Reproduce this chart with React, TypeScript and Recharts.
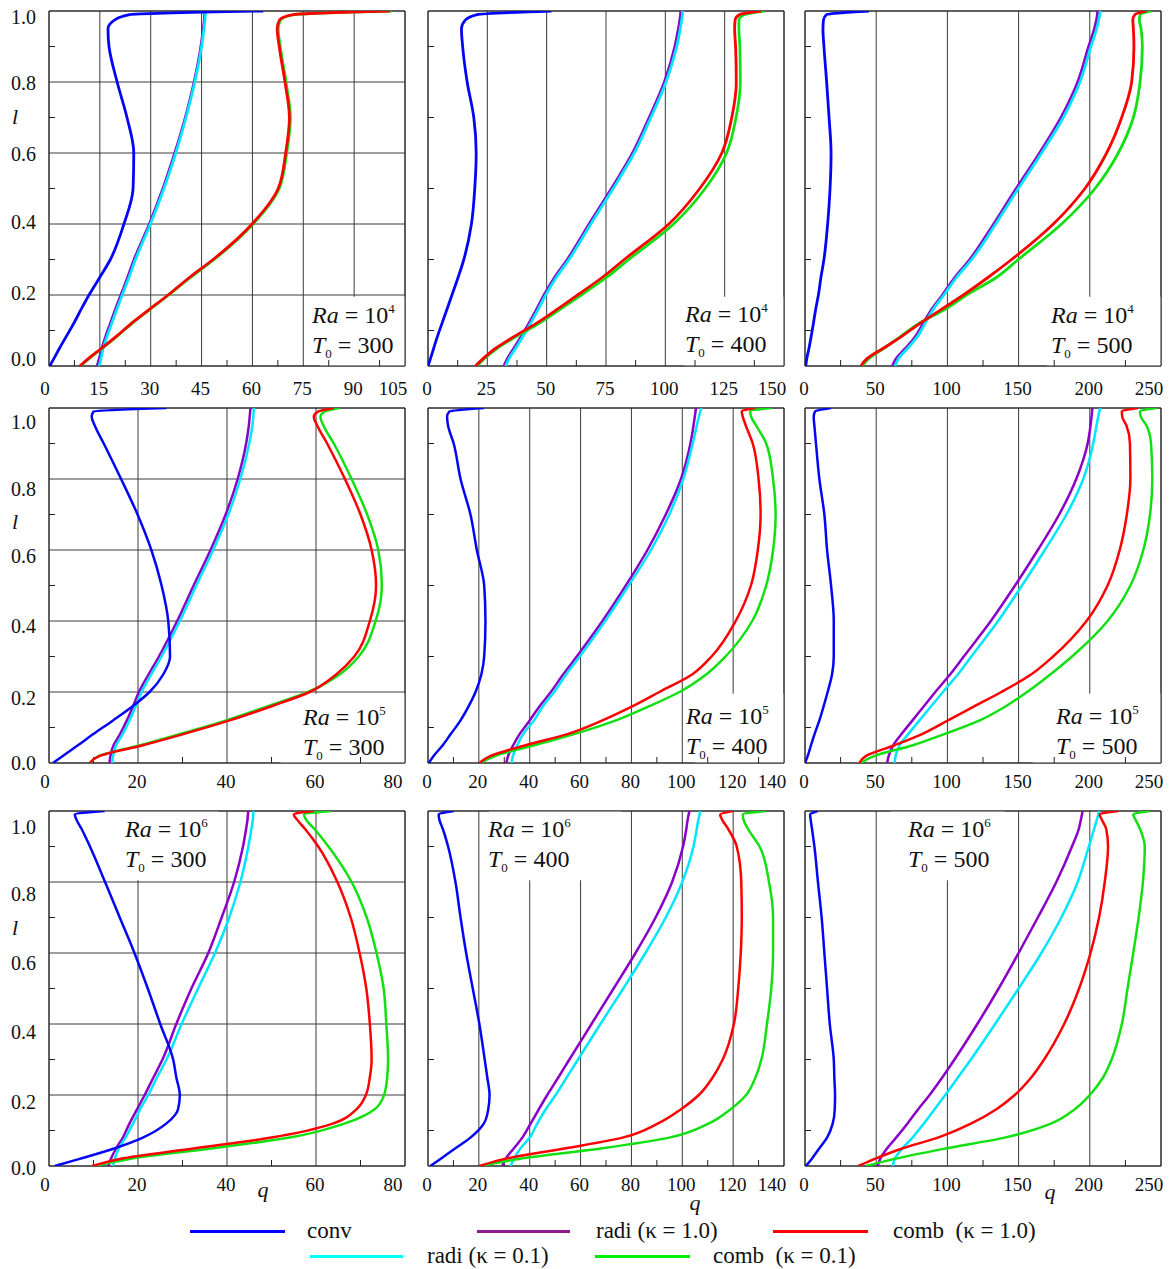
import {
  LineChart,
  Line,
  XAxis,
  YAxis,
  CartesianGrid,
  ReferenceArea,
  ReferenceLine,
} from "recharts";

const SERIF = "'Liberation Serif', 'Times New Roman', Times, serif";

// height levels l shared by every profile
const levels = [0, 0.02, 0.05, 0.08, 0.12, 0.16, 0.2, 0.25, 0.3, 0.4, 0.5, 0.6, 0.7, 0.8, 0.9, 0.95, 0.975, 0.99, 1.0];
const levelTicks = [0, 0.2, 0.4, 0.6, 0.8, 1.0];

const qTicks105 = [0, 15, 30, 45, 60, 75, 90, 105];
const qTicks150 = [0, 25, 50, 75, 100, 125, 150];
const qTicks250 = [0, 50, 100, 150, 200, 250];
const qTicks80 = [0, 20, 40, 60, 80];
const qTicks140 = [0, 20, 40, 60, 80, 100, 120, 140];

// Ra = 10^4, T0 = 300
const conv4T300 = [0.2, 1.4, 3.1, 4.9, 7.3, 9.5, 11.8, 15.0, 18.1, 22.1, 24.8, 25.0, 23.0, 20.1, 17.7, 17.4, 19.4, 23.8, 63.2];
const radi10_4T300 = [14.2, 14.8, 15.6, 16.6, 18.1, 19.6, 21.2, 23.2, 25.1, 29.6, 33.6, 37.1, 40.2, 42.8, 44.8, 45.5, 45.8, 45.9, 46.0];
const radi01_4T300 = [14.8, 15.3, 16.0, 17.0, 18.5, 20.0, 21.6, 23.6, 25.5, 29.9, 33.9, 37.4, 40.4, 43.0, 45.0, 45.7, 46.0, 46.1, 46.2];
const comb10_4T300 = [9.1, 11.5, 15.5, 19.4, 24.3, 29.7, 35.1, 41.5, 48.4, 59.9, 67.6, 69.8, 70.9, 69.6, 67.9, 67.3, 68.0, 72.0, 100.6];
const comb01_4T300 = [9.3, 11.7, 15.7, 19.6, 24.5, 29.9, 35.3, 41.8, 48.7, 60.2, 67.9, 70.1, 71.2, 69.9, 68.2, 67.6, 68.3, 72.3, 101.0];

// Ra = 10^4, T0 = 400
const conv4T400 = [0, 1.0, 2.4, 3.8, 5.9, 8.0, 10.1, 12.7, 15.1, 18.3, 19.7, 20.3, 19.3, 16.5, 14.6, 14.1, 15.8, 20.7, 52.0];
const radi10_4T400 = [32.0, 33.4, 36.2, 39.0, 42.5, 45.8, 48.9, 53.4, 58.7, 67.9, 77.3, 86.2, 93.2, 99.6, 104.0, 105.5, 106.1, 106.4, 106.5];
const radi01_4T400 = [32.7, 34.1, 36.9, 39.7, 43.2, 46.5, 49.6, 54.1, 59.4, 68.6, 78.0, 86.9, 93.9, 100.3, 104.8, 106.3, 106.9, 107.2, 107.3];
const comb10_4T400 = [20.0, 23.1, 28.5, 35.5, 45.6, 54.5, 63.0, 73.5, 82.7, 101.5, 114.5, 123.8, 128.0, 129.9, 129.6, 129.2, 129.4, 131.3, 140.4];
const comb01_4T400 = [20.7, 23.6, 29.2, 36.4, 46.8, 55.8, 64.6, 75.3, 84.6, 103.5, 116.8, 125.8, 129.8, 131.6, 131.4, 131.0, 131.0, 133.5, 141.8];

// Ra = 10^4, T0 = 500
const conv4T500 = [0.5, 1.2, 2.8, 4.2, 5.9, 7.5, 9.4, 11.2, 13.3, 15.9, 17.6, 18.3, 16.9, 15.2, 13.3, 12.6, 13.0, 15.2, 44.9];
const radi10_4T500 = [61.3, 63.8, 70.6, 77.0, 83.0, 89.0, 96.5, 105.3, 115.7, 132.5, 148.3, 164.7, 179.8, 191.5, 199.2, 203.2, 204.7, 205.3, 205.5];
const radi01_4T500 = [63.2, 65.5, 72.1, 78.4, 84.3, 90.1, 97.5, 106.5, 117.0, 133.9, 149.8, 166.2, 181.4, 193.1, 200.8, 204.8, 206.3, 207.0, 207.4];
const comb10_4T500 = [39.3, 43.3, 55.0, 66.7, 80.8, 96.0, 111.2, 128.7, 145.1, 174.4, 196.6, 211.8, 222.4, 229.4, 231.0, 230.6, 230.2, 231.7, 239.9];
const comb01_4T500 = [40.3, 44.5, 55.5, 66.0, 80.0, 98.5, 113.5, 134.6, 149.8, 180.2, 203.7, 220.0, 230.6, 235.3, 236.9, 236.0, 234.8, 235.5, 243.4];

// Ra = 10^5, T0 = 300
const conv5T300 = [0.9, 3.1, 6.5, 9.8, 14.4, 18.8, 22.6, 25.7, 27.2, 26.8, 25.3, 23.0, 19.9, 16.2, 12.3, 10.3, 9.6, 10.0, 26.4];
const radi10_5T300 = [13.6, 13.8, 14.5, 15.9, 17.5, 18.9, 20.2, 22.4, 24.7, 28.8, 32.5, 36.3, 39.7, 42.4, 44.3, 44.9, 45.1, 45.2, 45.3];
const radi01_5T300 = [14.2, 14.4, 15.1, 16.5, 18.1, 19.5, 20.8, 23.0, 25.3, 29.4, 33.1, 36.9, 40.3, 43.0, 45.0, 45.7, 45.9, 46.0, 46.1];
const comb10_5T300 = [9.1, 11.4, 21.1, 29.8, 40.6, 50.0, 58.6, 64.6, 68.6, 72.1, 73.5, 72.5, 70.0, 66.5, 62.5, 60.3, 59.5, 60.5, 64.0];
const comb01_5T300 = [9.3, 11.2, 20.5, 29.0, 39.8, 49.2, 58.2, 65.4, 69.6, 73.4, 74.8, 74.0, 71.5, 68.0, 64.0, 61.7, 61.0, 62.0, 65.3];

// Ra = 10^5, T0 = 400
const conv5T400 = [0.3, 2.2, 5.8, 8.8, 12.8, 16.0, 18.7, 21.0, 22.1, 22.6, 22.1, 19.2, 16.7, 12.8, 10.1, 7.9, 7.5, 8.4, 22.0];
const radi10_5T400 = [30.8, 31.5, 33.5, 35.9, 40.0, 43.9, 48.3, 53.2, 58.5, 68.6, 77.8, 86.3, 93.5, 99.5, 103.2, 104.4, 104.9, 105.2, 105.4];
const radi01_5T400 = [32.9, 33.4, 35.1, 37.3, 41.7, 45.2, 49.6, 54.4, 59.7, 69.7, 78.9, 87.7, 94.9, 100.4, 104.1, 105.7, 106.5, 107.1, 107.4];
const comb10_5T400 = [20.2, 24.6, 38.4, 54.2, 68.6, 80.5, 91.0, 104.0, 111.5, 121.0, 127.0, 129.7, 130.8, 130.0, 127.7, 125.0, 123.8, 123.4, 128.5];
const comb01_5T400 = [20.6, 26.6, 41.7, 56.8, 73.9, 87.0, 98.9, 109.5, 117.0, 127.5, 133.0, 135.7, 136.7, 135.7, 133.0, 129.1, 127.1, 126.7, 135.0];

// Ra = 10^5, T0 = 500
const conv5T500 = [0, 1.9, 4.2, 6.6, 10.1, 13.1, 15.9, 19.0, 20.2, 20.2, 18.3, 15.5, 13.6, 10.1, 7.7, 6.6, 6.1, 7.0, 18.3];
const radi10_5T500 = [57.7, 58.8, 62.0, 67.5, 75.5, 83.5, 91.5, 102.0, 111.5, 130.5, 147.5, 163.5, 178.5, 190.5, 198.5, 200.5, 201.2, 201.6, 201.8];
const radi01_5T500 = [62.9, 63.6, 66.4, 72.2, 80.4, 88.6, 96.9, 107.4, 116.8, 135.6, 152.4, 168.4, 183.6, 195.4, 202.4, 204.7, 205.9, 206.7, 207.3];
const comb10_5T500 = [38.2, 42.9, 62.9, 81.4, 100.4, 119.1, 137.9, 159.0, 174.2, 197.7, 212.5, 221.0, 226.0, 228.5, 228.2, 225.8, 222.8, 222.5, 234.0];
const comb01_5T500 = [39.4, 48.8, 75.8, 96.9, 122.7, 141.0, 156.0, 172.5, 187.5, 212.5, 228.5, 237.6, 242.3, 243.9, 243.0, 239.9, 235.9, 235.2, 247.0];

// Ra = 10^6, T0 = 300
const conv6T300 = [1.3, 6.9, 14.8, 21.1, 26.4, 29.0, 29.4, 28.6, 27.9, 25.0, 22.2, 19.2, 15.9, 12.6, 9.2, 7.3, 6.2, 5.8, 12.5];
const radi10_6T300 = [13.3, 13.9, 15.1, 16.6, 18.1, 19.8, 21.5, 23.5, 25.5, 28.6, 32.0, 35.8, 38.8, 41.6, 43.6, 44.3, 44.6, 44.7, 44.8];
const radi01_6T300 = [14.4, 14.8, 15.7, 17.2, 18.9, 20.5, 22.3, 24.3, 26.4, 29.8, 33.5, 37.3, 40.5, 43.0, 44.8, 45.5, 45.8, 45.9, 46.0];
const comb10_6T300 = [9.7, 15.9, 32.8, 50.0, 63.9, 69.1, 71.2, 72.1, 72.5, 72.1, 71.3, 69.8, 67.8, 64.8, 60.5, 57.5, 55.8, 55.0, 59.4];
const comb01_6T300 = [10.3, 18.1, 36.9, 54.1, 66.5, 73.2, 75.3, 76.0, 76.2, 75.8, 75.2, 73.6, 71.4, 68.0, 62.8, 59.6, 57.8, 57.3, 63.5];

// Ra = 10^6, T0 = 400
const conv6T400 = [0.9, 4.9, 10.8, 16.7, 22.0, 23.7, 24.2, 23.3, 22.3, 20.2, 17.6, 15.0, 12.8, 10.8, 7.9, 5.8, 4.5, 4.2, 10.1];
const radi10_6T400 = [29.2, 30.5, 33.8, 37.1, 40.4, 43.6, 46.9, 51.3, 55.6, 64.3, 73.0, 81.6, 89.5, 96.0, 100.3, 101.6, 102.1, 102.5, 102.8];
const radi01_6T400 = [32.5, 33.8, 36.4, 40.0, 43.0, 46.3, 50.2, 54.6, 59.0, 67.8, 76.8, 85.5, 93.5, 100.0, 104.4, 105.7, 106.3, 106.8, 107.0];
const comb10_6T400 = [20.2, 30.2, 54.2, 76.5, 90.5, 99.5, 106.5, 112.0, 115.9, 120.3, 122.0, 123.0, 123.4, 123.2, 121.4, 118.0, 115.7, 114.9, 119.9];
const comb01_6T400 = [20.6, 35.8, 68.6, 94.9, 110.5, 119.0, 125.1, 128.8, 131.1, 133.3, 135.0, 135.7, 135.7, 134.1, 130.4, 125.8, 124.1, 123.8, 133.0];

// Ra = 10^6, T0 = 500
const conv6T500 = [0.7, 4.7, 10.1, 15.5, 19.5, 20.9, 21.1, 20.6, 20.2, 17.4, 15.5, 13.6, 11.7, 9.1, 6.6, 4.9, 4.0, 3.6, 8.9];
const radi10_6T500 = [51.1, 52.8, 57.7, 64.0, 72.0, 79.5, 87.5, 96.5, 105.0, 121.0, 136.0, 150.0, 163.5, 176.5, 187.5, 192.3, 193.7, 194.5, 194.9];
const radi01_6T500 = [61.7, 63.0, 68.5, 75.5, 83.5, 91.0, 98.5, 107.5, 116.5, 133.5, 150.0, 166.0, 180.0, 191.5, 199.3, 203.1, 204.9, 206.0, 206.4];
const comb10_6T500 = [37.5, 49.0, 68.7, 93.3, 116.8, 134.4, 147.3, 159.0, 167.9, 182.0, 192.5, 200.5, 206.5, 210.5, 212.8, 211.5, 208.5, 207.0, 220.0];
const comb01_6T500 = [42.9, 62.9, 99.7, 140.2, 173.1, 189.5, 200.0, 209.4, 215.3, 222.5, 226.5, 230.5, 234.3, 237.3, 238.6, 235.2, 232.2, 230.5, 242.3];

// draw order: radi 1.0, radi 0.1, conv, comb 0.1, comb 1.0
const seriesStyles = [
  { key: "radi10", color: "#8a00c8" },
  { key: "radi01", color: "#00e6ff" },
  { key: "conv", color: "#0505f5" },
  { key: "comb01", color: "#12e012" },
  { key: "comb10", color: "#ff0000" },
];

const COL_LEFT = [49, 428, 805];
const ROW_TOP = [11, 408, 811];
const PLOT_W = 356;
const PLOT_H = 355;
const AXIS_W = 49;
const M_TOP = 6;
const M_RIGHT = 10;
const X_AXIS_H = 34;
const CHART_W = AXIS_W + PLOT_W + M_RIGHT;
const CHART_H = M_TOP + PLOT_H + X_AXIS_H;

// label drift of the l tick labels, one list per row
const levelLabelShift = [
  [-7, -2, -2, 1, 1, 6],
  [0, 6, 5, 6, 10, 14],
  [2, 7, 8, 10, 12, 16],
];

const panels = [
  { row: 0, col: 0, ra: "4", t0: 300, max: 105, ticks: qTicks105, box: [80, 105, 0, 0.195], label: [312, 302],
    series: { conv: conv4T300, radi10: radi10_4T300, radi01: radi01_4T300, comb10: comb10_4T300, comb01: comb01_4T300 } },
  { row: 0, col: 1, ra: "4", t0: 400, max: 150, ticks: qTicks150, box: [108, 150, 0, 0.195], label: [685, 301],
    series: { conv: conv4T400, radi10: radi10_4T400, radi01: radi01_4T400, comb10: comb10_4T400, comb01: comb01_4T400 } },
  { row: 0, col: 2, ra: "4", t0: 500, max: 250, ticks: qTicks250, box: [170, 250, 0, 0.195], label: [1051, 302],
    series: { conv: conv4T500, radi10: radi10_4T500, radi01: radi01_4T500, comb10: comb10_4T500, comb01: comb01_4T500 } },
  { row: 1, col: 0, ra: "5", t0: 300, max: 80, ticks: qTicks80, box: [52, 80, 0, 0.195], label: [303, 704],
    series: { conv: conv5T300, radi10: radi10_5T300, radi01: radi01_5T300, comb10: comb10_5T300, comb01: comb01_5T300 } },
  { row: 1, col: 1, ra: "5", t0: 400, max: 140, ticks: qTicks140, box: [105, 140, 0, 0.195], label: [686, 703],
    series: { conv: conv5T400, radi10: radi10_5T400, radi01: radi01_5T400, comb10: comb10_5T400, comb01: comb01_5T400 } },
  { row: 1, col: 2, ra: "5", t0: 500, max: 250, ticks: qTicks250, box: [160, 250, 0, 0.195], label: [1056, 703],
    series: { conv: conv5T500, radi10: radi10_5T500, radi01: radi01_5T500, comb10: comb10_5T500, comb01: comb01_5T500 } },
  { row: 2, col: 0, ra: "6", t0: 300, max: 80, ticks: qTicks80, box: [12, 38, 0.805, 1], label: [125, 816],
    series: { conv: conv6T300, radi10: radi10_6T300, radi01: radi01_6T300, comb10: comb10_6T300, comb01: comb01_6T300 } },
  { row: 2, col: 1, ra: "6", t0: 400, max: 140, ticks: qTicks140, box: [24, 76, 0.805, 1], label: [488, 816],
    series: { conv: conv6T400, radi10: radi10_6T400, radi01: radi01_6T400, comb10: comb10_6T400, comb01: comb01_6T400 } },
  { row: 2, col: 2, ra: "6", t0: 500, max: 250, ticks: qTicks250, box: [60, 140, 0.805, 1], label: [908, 816],
    series: { conv: conv6T500, radi10: radi10_6T500, radi01: radi01_6T500, comb10: comb10_6T500, comb01: comb01_6T500 } },
];

const legendRows = [
  { y: 1231, items: [
    { text: "conv", color: "#0000ff", x1: 190, x2: 285, tx: 307 },
    { text: "radi (κ = 1.0)", color: "#8e1c8c", x1: 477, x2: 570, tx: 596 },
    { text: "comb  (κ = 1.0)", color: "#ff0000", x1: 773, x2: 868, tx: 893 },
  ] },
  { y: 1256, items: [
    { text: "radi (κ = 0.1)", color: "#00ffff", x1: 310, x2: 403, tx: 427 },
    { text: "comb  (κ = 0.1)", color: "#00ee00", x1: 595, x2: 690, tx: 713 },
  ] },
];

const toPoints = (values: number[]) => levels.map((l, i) => ({ l, q: values[i] }));

const minorLevels = [0.1, 0.3, 0.5, 0.7, 0.9];

function Panel({ p }: { p: any }) {
  const minorQ = p.ticks.slice(1).map((t: number, i: number) => (t + p.ticks[i]) / 2);
  const tickQ = (6 * p.max) / PLOT_W;
  const tickL = 6 / PLOT_H;
  const shift = levelLabelShift[p.row];
  const stroke = p.row === 0 ? 2.8 : 2.5;

  const renderQTick = (props: any) => {
    const { x, y, payload } = props;
    const v = payload.value;
    const dx = v === p.max ? -12 : v === 0 && p.col === 0 ? -4 : -1;
    return (
      <text x={x + dx} y={y + (p.row === 0 ? 27 : 23)} textAnchor="middle" fontSize={19} fontFamily={SERIF} fill="#111">
        {v}
      </text>
    );
  };

  const renderLTick = (props: any) => {
    const { x, y, payload } = props;
    const v = payload.value;
    return (
      <text x={x - 11} y={y + shift[Math.round(v * 5)] + 7} textAnchor="end" fontSize={20} fontFamily={SERIF} fill="#111">
        {v.toFixed(1)}
      </text>
    );
  };

  return (
    <div style={{ position: "absolute", left: COL_LEFT[p.col] - AXIS_W, top: ROW_TOP[p.row] - M_TOP }}>
      <LineChart
        layout="vertical"
        width={CHART_W}
        height={CHART_H}
        margin={{ top: M_TOP, right: M_RIGHT, bottom: 0, left: 0 }}
      >
        <CartesianGrid stroke="#3a3a3a" strokeWidth={1} />
        <ReferenceArea x1={p.box[0]} x2={p.box[1]} y1={p.box[2]} y2={p.box[3]} fill="#ffffff" fillOpacity={1} stroke="none" />
        {minorQ.map((m: number) => (
          <ReferenceLine key={"mq" + m} segment={[{ x: m, y: 0 }, { x: m, y: tickL }]} stroke="#222" strokeWidth={1} />
        ))}
        {minorLevels.map((m) => (
          <ReferenceLine key={"ml" + m} segment={[{ x: 0, y: m }, { x: tickQ, y: m }]} stroke="#222" strokeWidth={1} />
        ))}
        <XAxis
          type="number"
          domain={[0, p.max]}
          ticks={p.ticks}
          interval={0}
          tickSize={0}
          tickLine={false}
          axisLine={false}
          height={X_AXIS_H}
          allowDataOverflow
          tick={renderQTick}
        />
        <YAxis
          type="number"
          dataKey="l"
          domain={[0, 1]}
          ticks={levelTicks}
          interval={0}
          reversed
          tickSize={0}
          tickLine={false}
          axisLine={false}
          width={AXIS_W}
          allowDataOverflow
          tick={p.col === 0 ? renderLTick : false}
        />
        {seriesStyles.map((s) => (
          <Line
            key={s.key}
            data={toPoints(p.series[s.key])}
            dataKey="q"
            type="monotone"
            stroke={s.color}
            strokeWidth={stroke}
            dot={false}
            activeDot={false}
            isAnimationActive={false}
          />
        ))}
        <ReferenceArea x1={0} x2={p.max} y1={0} y2={1} fill="none" stroke="#222" strokeWidth={1} />
      </LineChart>
    </div>
  );
}

function CaseLabel({ p }: { p: any }) {
  return (
    <div
      style={{
        position: "absolute",
        left: p.label[0],
        top: p.label[1],
        fontFamily: SERIF,
        fontSize: 24,
        lineHeight: "27px",
        color: "#111",
        whiteSpace: "nowrap",
      }}
    >
      <div>
        <i>Ra</i> = 10
        <span style={{ fontSize: 13, position: "relative", top: -10 }}>{p.ra}</span>
      </div>
      <div>
        <i>T</i>
        <span style={{ fontSize: 13, position: "relative", top: 5 }}>0</span> = {p.t0}
      </div>
    </div>
  );
}

function Txt({ x, y, children, italic, size }: any) {
  return (
    <div
      style={{
        position: "absolute",
        left: x,
        top: y,
        transform: "translate(-50%, -50%)",
        fontFamily: SERIF,
        fontStyle: italic ? "italic" : "normal",
        fontSize: size,
        lineHeight: 1,
        color: "#111",
        whiteSpace: "pre",
      }}
    >
      {children}
    </div>
  );
}

export default function App() {
  return (
    <div
      style={{
        position: "absolute",
        left: 0,
        top: 0,
        width: 1173,
        height: 1269,
        background: "#fff",
        overflow: "hidden",
      }}
    >
      {panels.map((p, i) => (
        <Panel key={i} p={p} />
      ))}
      {panels.map((p, i) => (
        <CaseLabel key={"lab" + i} p={p} />
      ))}

      <Txt x={15} y={117} italic size={22}>l</Txt>
      <Txt x={15} y={522} italic size={22}>l</Txt>
      <Txt x={15} y={928} italic size={22}>l</Txt>
      <Txt x={263} y={1190} italic size={22}>q</Txt>
      <Txt x={695} y={1203} italic size={22}>q</Txt>
      <Txt x={1050} y={1192} italic size={22}>q</Txt>

      {legendRows.map((row, r) =>
        row.items.map((it, i) => (
          <div key={r + "-" + i}>
            <div
              style={{
                position: "absolute",
                left: it.x1,
                top: row.y - 1.5,
                width: it.x2 - it.x1,
                height: 3,
                background: it.color,
              }}
            />
            <div
              style={{
                position: "absolute",
                left: it.tx,
                top: row.y - 13,
                fontFamily: SERIF,
                fontSize: 23,
                lineHeight: "26px",
                color: "#111",
                whiteSpace: "pre",
              }}
            >
              {it.text}
            </div>
          </div>
        ))
      )}
    </div>
  );
}
